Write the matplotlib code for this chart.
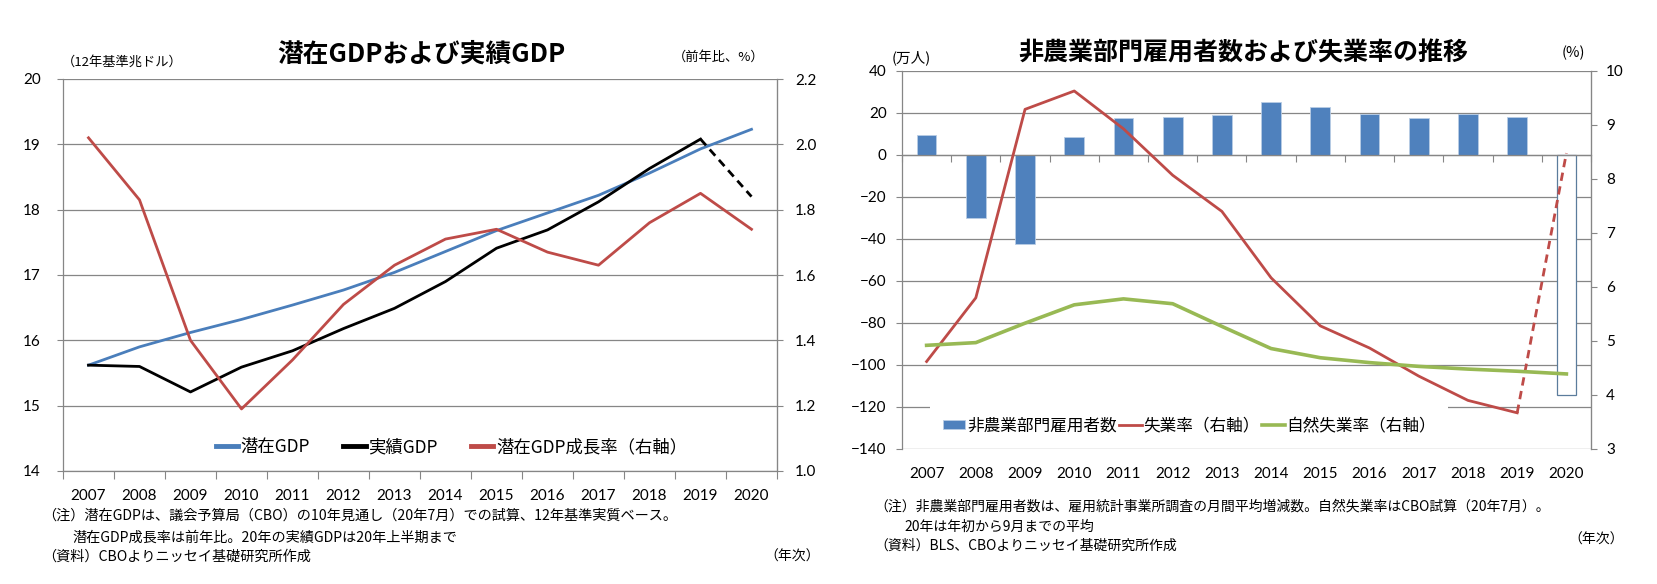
import matplotlib
matplotlib.use('Agg')
import matplotlib.pyplot as plt
import numpy as np

# --- data ---
years = ['2007', '2008', '2009', '2010', '2011', '2012', '2013',
         '2014', '2015', '2016', '2017', '2018', '2019', '2020']

# left chart: trillion 2012 dollars / yoy %
potential_gdp = [15.62, 15.90, 16.12, 16.32, 16.54, 16.77, 17.04,
                 17.36, 17.68, 17.95, 18.22, 18.56, 18.93, 19.23]
actual_gdp = [15.62, 15.60, 15.21, 15.59, 15.84, 16.18, 16.49,
              16.90, 17.41, 17.69, 18.12, 18.63, 19.08, 18.20]
potential_growth = [2.02, 1.83, 1.40, 1.19, 1.34, 1.51, 1.63,
                    1.71, 1.74, 1.67, 1.63, 1.76, 1.85, 1.74]

# right chart: 10k persons / %
payrolls = [9.5, -29.8, -42.4, 8.7, 17.5, 18.3, 19.2,
            25.1, 22.8, 19.5, 17.8, 19.4, 17.9, -114.3]
unemployment = [4.62, 5.8, 9.29, 9.63, 8.93, 8.07, 7.4,
                6.17, 5.28, 4.87, 4.35, 3.9, 3.67, 8.48]
natural_rate = [4.92, 4.97, 5.33, 5.67, 5.78, 5.69, 5.27,
                4.86, 4.69, 4.60, 4.53, 4.48, 4.44, 4.39]

JP = ['Noto Sans CJK JP', 'DejaVu Sans']
NUM = ['Lato', 'DejaVu Sans']
GRID = '#868686'
BLUE = '#4A7EBB'
RED = '#BE4B48'
GREEN = '#98B954'
BAR = '#4F81BD'

W, H = 1658, 584
fig = plt.figure(figsize=(W / 100, H / 100), dpi=100)

x = np.arange(len(years))
bounds = np.arange(len(years) + 1) - 0.5


def px(l, t, r, b):
    return [l / W, 1 - b / H, (r - l) / W, (b - t) / H]


def style_ax(ax):
    ax.spines['top'].set_visible(False)
    for s in ['left', 'right', 'bottom']:
        ax.spines[s].set_color(GRID)
        ax.spines[s].set_linewidth(0.9)
    ax.set_xlim(-0.5, len(years) - 0.5)
    ax.grid(axis='y', color=GRID, linewidth=0.9)
    ax.set_axisbelow(True)
    ax.tick_params(colors=GRID, labelcolor='black')
    for lab in ax.get_yticklabels():
        lab.set_family(NUM)


# ================= left chart =================
ax1 = fig.add_axes(px(63, 79, 777, 471))
style_ax(ax1)
ax1.set_ylim(14, 20)
ax1.set_yticks(np.arange(14, 21, 1))
ax1.tick_params(axis='y', length=4, pad=12, labelsize=11)
ax1.set_xticks(bounds)
ax1.set_xticklabels([])
ax1.set_xticks(x, minor=True)
ax1.set_xticklabels(years, minor=True, fontsize=11, family=NUM)
ax1.tick_params(axis='x', which='major', length=6, color=GRID)
ax1.tick_params(axis='x', which='minor', length=0, pad=13)

l_pot, = ax1.plot(x, potential_gdp, color=BLUE, lw=2.0, label='潜在GDP')
l_act, = ax1.plot(x[:-1], actual_gdp[:-1], color='black', lw=2.0, label='実績GDP')
ax1.plot(x[-2:], actual_gdp[-2:], color='black', lw=2.0, ls=(0, (3, 2)))

ax1r = ax1.twinx()
ax1r.set_ylim(1.0, 2.2)
ax1r.set_yticks(np.arange(1.0, 2.21, 0.2))
ax1r.set_yticklabels(['%.1f' % v for v in np.arange(1.0, 2.21, 0.2)],
                     family=NUM, fontsize=11)
for s in ['left', 'top', 'bottom']:
    ax1r.spines[s].set_visible(False)
ax1r.spines['right'].set_color(GRID)
ax1r.tick_params(axis='y', length=4, pad=9, colors=GRID, labelcolor='black')
l_gr, = ax1r.plot(x, potential_growth, color=RED, lw=2.0, label='潜在GDP成長率（右軸）')

leg1 = ax1r.legend(handles=[l_pot, l_act, l_gr], loc='center',
                   bbox_to_anchor=(0.544, 0.061), ncol=3, frameon=False,
                   prop={'family': JP, 'size': 12.5}, handlelength=1.3,
                   handletextpad=0.15, columnspacing=1.9)
for h in leg1.legend_handles:
    h.set_linewidth(3.5)

fig.text(421 / W, 1 - 54 / H, '潜在GDPおよび実績GDP', ha='center', va='center',
         family=JP, fontsize=18.5, fontweight='bold')
fig.text(62 / W, 1 - 62 / H, '（12年基準兆ドル）', ha='left', va='center',
         family=JP, fontsize=9.5)
fig.text(764 / W, 1 - 57 / H, '（前年比、%）', ha='right', va='center',
         family=JP, fontsize=9.5)

fig.text(42 / W, 1 - 516 / H,
         '（注）潜在GDPは、議会予算局（CBO）の10年見通し（20年7月）での試算、12年基準実質ベース。',
         ha='left', va='center', family=JP, fontsize=10.2)
fig.text(72 / W, 1 - 538 / H, '潜在GDP成長率は前年比。20年の実績GDPは20年上半期まで',
         ha='left', va='center', family=JP, fontsize=10.2)
fig.text(42 / W, 1 - 557 / H, '（資料）CBOよりニッセイ基礎研究所作成',
         ha='left', va='center', family=JP, fontsize=10.2)
fig.text(764 / W, 1 - 557 / H, '（年次）', ha='left', va='center',
         family=JP, fontsize=10)

# ================= right chart =================
ax2 = fig.add_axes(px(902, 71, 1591, 449))
style_ax(ax2)
ax2.set_ylim(-140, 40)
ax2.set_yticks(np.arange(-140, 41, 20))
ax2.tick_params(axis='y', length=4, pad=7, labelsize=11)
ax2.spines['bottom'].set_position(('data', 0))
ax2.set_xticks(bounds)
ax2.set_xticklabels([])
ax2.tick_params(axis='x', length=5, color=GRID)

sec = ax2.secondary_xaxis('bottom')
sec.set_xticks(x)
sec.set_xticklabels(years, family=NUM, fontsize=11)
sec.tick_params(length=0, pad=13)
sec.spines['bottom'].set_visible(False)

bars = ax2.bar(x[:-1], payrolls[:-1], width=0.4, color=BAR,
               edgecolor='#B9CDE5', linewidth=0.6, label='非農業部門雇用者数')
ax2.bar(x[-1:], payrolls[-1:], width=0.4, facecolor='white',
        edgecolor='#5B7C9C', linewidth=0.9)

ax2r = ax2.twinx()
ax2r.set_ylim(3, 10)
ax2r.set_yticks(np.arange(3, 11, 1))
ax2r.set_yticklabels([str(v) for v in range(3, 11)], family=NUM, fontsize=11)
for s in ['left', 'top', 'bottom']:
    ax2r.spines[s].set_visible(False)
ax2r.spines['right'].set_color(GRID)
ax2r.tick_params(axis='y', length=4, pad=7, colors=GRID, labelcolor='black')

l_un, = ax2r.plot(x[:-1], unemployment[:-1], color=RED, lw=2.0, label='失業率（右軸）')
ax2r.plot(x[-2:], unemployment[-2:], color=RED, lw=2.0, ls=(0, (3, 2)))
l_nat, = ax2r.plot(x, natural_rate, color=GREEN, lw=2.6, label='自然失業率（右軸）')

leg2 = ax2r.legend(handles=[bars, l_un, l_nat], loc='center',
                   bbox_to_anchor=(0.417, 0.061), ncol=3, frameon=True,
                   prop={'family': JP, 'size': 12}, handlelength=1.35,
                   handleheight=0.45, handletextpad=0.1, columnspacing=0.15,
                   borderpad=0.75, fancybox=False)
leg2.get_frame().set_facecolor('white')
leg2.get_frame().set_edgecolor('none')
leg2.get_frame().set_alpha(1)

fig.text(1243 / W, 1 - 53 / H, '非農業部門雇用者数および失業率の推移', ha='center',
         va='center', family=JP, fontsize=18, fontweight='bold')
fig.text(892 / W, 1 - 58 / H, '(万人)', ha='left', va='center',
         family=JP, fontsize=10.5)
fig.text(1585 / W, 1 - 53 / H, '(%)', ha='right', va='center',
         family=JP, fontsize=10.5)

fig.text(874 / W, 1 - 506 / H,
         '（注）非農業部門雇用者数は、雇用統計事業所調査の月間平均増減数。自然失業率はCBO試算（20年7月）。',
         ha='left', va='center', family=JP, fontsize=10)
fig.text(904 / W, 1 - 527 / H, '20年は年初から9月までの平均',
         ha='left', va='center', family=JP, fontsize=10)
fig.text(874 / W, 1 - 546 / H, '（資料）BLS、CBOよりニッセイ基礎研究所作成',
         ha='left', va='center', family=JP, fontsize=10)
fig.text(1568 / W, 1 - 540 / H, '（年次）', ha='left', va='center',
         family=JP, fontsize=10)

fig.savefig('out.png', dpi=100)
